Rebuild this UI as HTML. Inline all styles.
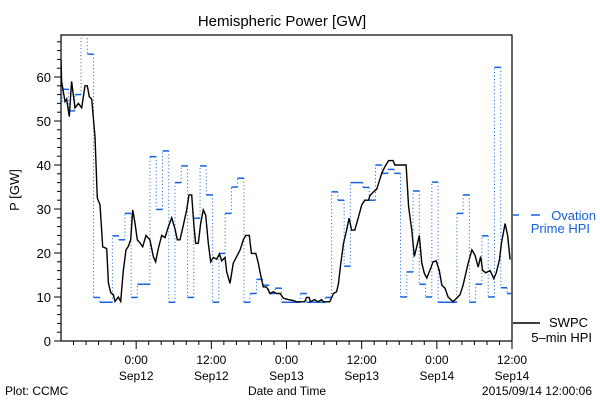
<!DOCTYPE html>
<html><head><meta charset="utf-8"><style>
html,body{margin:0;padding:0;background:#fff;}
svg{display:block;font-family:"Liberation Sans",sans-serif;}
</style></head><body>
<svg id="chart" width="600" height="400" viewBox="0 0 600 400" xmlns="http://www.w3.org/2000/svg">
<defs><clipPath id="clip"><rect x="61" y="35" width="451" height="306"/></clipPath></defs>
<text x="282" y="26" font-size="15" text-anchor="middle">Hemispheric Power [GW]</text>
<text transform="translate(19,190) rotate(-90)" font-size="13" text-anchor="middle">P [GW]</text>
<text x="287" y="395" font-size="12" text-anchor="middle">Date and Time</text>
<text x="5" y="395" font-size="12">Plot: CCMC</text>
<text x="592" y="395" font-size="12" text-anchor="end">2015/09/14 12:00:06</text>
<g id="axes"></g>
<g id="series" clip-path="url(#clip)"></g>
<g>
<line x1="513" y1="215" x2="519" y2="215" stroke="#1560e0" stroke-width="1.5"/>
<line x1="531" y1="215" x2="540" y2="215" stroke="#1560e0" stroke-width="1.5"/>
<text x="596" y="220" font-size="13" fill="#1560e0" text-anchor="end">Ovation</text>
<text x="590" y="233" font-size="13" fill="#1560e0" text-anchor="end">Prime HPI</text>
</g>
<g>
<line x1="513" y1="323" x2="540" y2="323" stroke="#000" stroke-width="1.5"/>
<text x="588" y="327" font-size="13" text-anchor="end">SWPC</text>
<text x="592" y="342" font-size="13" text-anchor="end">5–min HPI</text>
</g>
</svg>
<script>
// hours since 2015-09-11 12:00
const hpiTimes=[0,0.1,0.37,0.64,0.9,1.33,1.7,2.23,2.77,3.3,3.83,4.2,4.52,4.9,5.43,5.8,6.23,6.65,7.29,7.56,7.93,8.36,8.62,9.15,9.53,9.95,10.38,10.75,11.12,11.44,11.81,12.18,12.61,13.04,13.57,14.2,14.74,15.11,15.54,16.07,16.6,17.14,17.67,18.2,18.57,19,19.53,20.06,20.43,20.86,21.23,21.5,21.92,22.3,22.72,23.1,23.52,23.9,24.32,24.85,25.28,25.65,26.18,26.45,26.98,27.5,28.6,29.1,29.5,30.06,30.4,31.1,31.5,31.93,32.3,32.8,33.4,33.9,34.4,35,35.5,36.3,37.1,37.6,38.9,39.2,39.6,39.8,40.5,41,41.6,41.9,42.9,43.5,44,44.3,44.6,45.1,45.6,46,46.4,46.9,47.5,48,48.5,49.1,49.3,49.9,50.4,51.2,51.7,52.3,53,53.3,53.8,54.4,55.1,55.5,56,56.4,56.8,57.2,57.6,58,58.4,58.9,59.4,59.9,60.4,60.8,61.3,61.8,62.6,63.7,64.2,65,65.6,66.1,66.6,66.98,67.3,67.8,68.5,69.1,69.5,70,70.3,70.9,71.3,71.7,72];
const hpiValues=[63.9,59,56.7,54.4,55,51,59,53,54,53,58,58,55.5,55,46.4,32.5,31,21.4,21,13.2,11,10.5,9,10,9,16,20.7,21.5,23,29.8,26.8,23,22.3,21.4,24,23,19.2,18,21,24,23.5,26,28,25.5,23,23,26.3,29.8,33.2,33.2,26,22.2,22.2,26.8,29.8,28.6,22.2,18,19,18.6,19.8,18.2,19,15.7,13.1,17.7,20.7,23,24,24,19.9,19.9,17.7,14.6,12.3,12.3,10.8,11.2,10.8,10.8,9.7,9.4,9.2,8.9,8.9,9.9,9.9,8.9,9.4,8.9,9.4,8.9,8.9,10.8,11.2,13.1,16.9,22.2,25.2,27.9,25.2,25.2,28.2,30.9,32,32,33,33.9,34.5,38.1,39.6,41,41,40,40,40,40,30.5,25.2,19.2,21.5,24,17.7,15.4,14.3,16.1,18,18.2,16,12.7,12,10,8.9,10.5,12.7,17.7,20.7,19.5,16.8,19.2,16.1,15.5,16,14.2,15.5,18.5,22.2,26.7,24,18.5];
// hourly Ovation Prime blocks, first block starts at hour -0.8
const ovStart=-0.8;
const ovValues=[54.4,57.2,52.3,56,72,65.2,9.9,8.8,8.8,23.9,23,29,9.9,12.9,12.9,41.9,29.9,43.2,8.8,36,39.8,9.9,27.9,39.8,33.2,8.8,19.9,29,35,37,8.8,10.8,14,12.7,10.8,12,8.8,8.8,8.8,10.8,8.8,8.8,8.8,9.9,33.9,32,17,36,36,34.9,32,40,38.1,39,38.1,10,15.7,34.1,12.9,10,36.1,8.8,8.8,8.8,29,33.2,8.8,12.9,23.9,10,62.2,12.1,10.8];
const yTicks=[0,10,20,30,40,50,60];
const xTickHours=[12,24,36,48,60,72];
const xTickTimes=["0:00","12:00","0:00","12:00","0:00","12:00"];
const xTickDates=["Sep12","Sep12","Sep13","Sep13","Sep14","Sep14"];

const X0=61,X1=512,Y0=341,TMAX=72;
function xs(t){return X0+(t/TMAX)*(X1-X0);}
function ys(v){return Y0-v*4.4;}
const NS="http://www.w3.org/2000/svg";
function mk(tag,attrs,parent){const e=document.createElementNS(NS,tag);for(const k in attrs)e.setAttribute(k,attrs[k]);parent.appendChild(e);return e;}
const axes=document.getElementById('axes');
const series=document.getElementById('series');
const frame=mk('rect',{x:X0,y:35,width:X1-X0,height:Y0-35,fill:'none',stroke:'#000','stroke-width':1.2},axes);


for(let v=0;v<=68;v+=2){
  const major=v%10===0;
  const t=mk('line',{x1:X0-(major?7:4),x2:X0,y1:ys(v),y2:ys(v),stroke:'#000','stroke-width':1},axes);
  
  
}
yTicks.forEach(v=>{
  const l=mk('text',{x:X0-10,y:ys(v)+5,'font-size':13,'text-anchor':'end'},axes);
  l.textContent=v;
  
  
});
for(let h=2;h<=72;h+=2){
  const major=h%12===0;
  const t=mk('line',{x1:xs(h),x2:xs(h),y1:Y0,y2:Y0+(major?8:4),stroke:'#000','stroke-width':1},axes);
  
  
}
xTickHours.forEach((h,i)=>{
  const a=mk('text',{x:xs(h),y:364,'font-size':12,'text-anchor':'middle'},axes);
  a.textContent=xTickTimes[i];
  
  
  const b=mk('text',{x:xs(h),y:380,'font-size':12,'text-anchor':'middle'},axes);
  b.textContent=xTickDates[i];
  
  
});
// Ovation steps
let prev=null;
ovValues.forEach((v,i)=>{
  const t0=Math.max(0,ovStart+i),t1=Math.min(TMAX,ovStart+i+1);
  if(prev!==null){
    const d=mk('line',{x1:xs(t0),x2:xs(t0),y1:ys(prev),y2:ys(v),stroke:'#1560e0','stroke-width':1,'stroke-dasharray':'1,2.5'},series);
    
    
  }
  const s=mk('line',{x1:xs(t0),x2:xs(t1),y1:ys(v),y2:ys(v),stroke:'#1560e0','stroke-width':1.5},series);
  
  
  prev=v;
});
const pts=hpiTimes.map((t,i)=>xs(t).toFixed(1)+','+ys(hpiValues[i]).toFixed(1)).join(' ');
const pl=mk('polyline',{points:pts,fill:'none',stroke:'#000','stroke-width':1.4,'stroke-linejoin':'miter'},series);


</script>
</body></html>
